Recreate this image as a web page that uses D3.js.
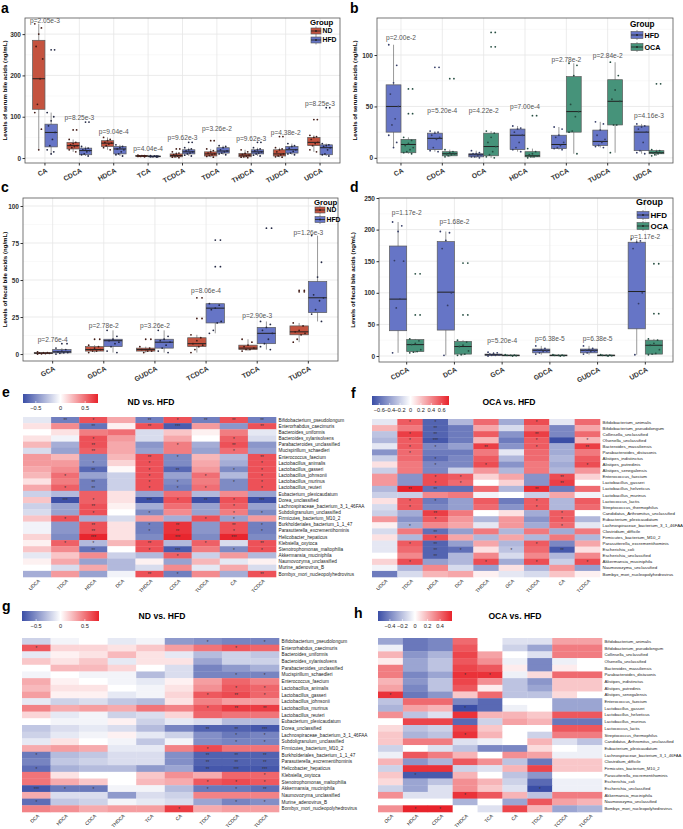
<!DOCTYPE html>
<html>
<head>
<meta charset="utf-8">
<script src="https://cdnjs.cloudflare.com/ajax/libs/d3/7.8.5/d3.min.js"></script>
<style>
  body { margin: 0; background: #fff; }
  svg { display: block; font-family: "Liberation Sans", Arial, sans-serif; }
</style>
</head>
<body>
<div id="chart"></div>
<script>
//**********************************************
// Bile acid box plots (a-d) + correlation heatmaps (e-h)
//**********************************************

// ---- a: serum, ND vs HFD  ([lo, q1, median, q3, hi])
var aCats = ['CA','CDCA','HDCA','TCA','TCDCA','TDCA','THDCA','TUDCA','UDCA'];
var aND  = [[20,118,192,285,325],[15,22,30,38,45],[20,28,36,42,50],[3,4,5,6,7],[1,3,6,10,15],[2,5,10,15,22],[1,3,7,11,20],[2,5,10,20,25],[15,30,38,50,55]];
var aHFD = [[10,27,62,82,110],[5,8,18,24,28],[5,10,22,28,32],[2,3,4,5,6],[5,10,15,20,25],[8,12,17,25,30],[5,10,15,20,25],[8,12,20,28,35],[5,8,25,32,35]];
var aNDpts  = [[325,315,300,270,240,192,130,110,70,20],[45,38,35,32,30,28,25,20,15],[50,45,42,38,36,34,30,25,20],[7,6,6,5,5,5,4,4,3],[15,12,10,8,6,5,3,2,1],[22,18,15,12,10,8,6,4,2],[20,15,11,9,7,5,3,2,1],[25,22,20,15,10,8,5,3,2],[55,52,50,45,38,35,30,20,15]];
var aHFDpts = [[110,100,90,78,62,45,30,20,15,10],[28,24,22,20,18,15,10,8,5],[32,28,25,22,20,15,10,8,5],[6,5,5,4,4,4,3,3,2],[25,22,20,17,15,12,10,7,5],[30,28,25,20,17,15,12,10,8],[25,22,20,17,15,12,10,7,5],[35,30,28,24,20,16,12,10,8],[35,32,30,28,25,20,10,8,5]];
var aNDout  = [[],[68],[],[],[22],[42],[],[52],[93]];
var aHFDout = [[262],[87],[],[],[38],[],[38],[],[122]];
var aP  = ['p=2.05e-3','p=8.25e-3','p=9.04e-4','p=4.04e-4','p=9.62e-3','p=3.26e-2','p=9.62e-3','p=4.38e-2','p=8.25e-3'];
var aPy = [332,97,63,22,50,70,46,61,131];

// ---- b: serum, HFD vs OCA
var bCats = ['CA','CDCA','OCA','HDCA','TDCA','TUDCA','UDCA'];
var bHFD = [[10,25,50,71,110],[6,8,19,24,26],[0,1,3,4,7],[6,8,22,28,31],[8,9,13,22,30],[10,12,16,27,35],[4,7,25,31,33]];
var bOCA = [[4,5,13,18,20],[1,2,4,6,8],[0,2,11,24,26],[0,1,2,6,9],[4,25,45,79,92],[5,32,55,76,93],[2,4,5,7,8]];
var bHFDpts = [[110,90,73,62,50,38,32,22,15,10],[26,25,24,22,20,18,10,7,6],[7,5,4,4,3,2,1,1,0],[31,29,28,25,22,15,10,8,6],[30,28,22,20,15,12,10,9,8],[35,33,27,22,18,15,12,11,10],[33,31,30,28,25,15,7,5,4]];
var bOCApts = [[20,17,14,12,10,8,6,5,4],[8,6,5,4,4,3,2,1],[26,24,20,15,11,6,3,1,0],[9,6,4,3,2,1,1,0],[92,90,80,52,45,40,26,25,4],[93,80,66,57,55,32,32,5],[8,7,6,5,5,4,3,2]];
var bHFDout = [[],[88],[],[],[],[],[]];
var bOCAout = [[67,43],[77],[122,108],[41],[],[],[72]];
var bP  = ['p=2.00e-2','p=5.20e-4','p=4.22e-2','p=7.00e-4','p=2.78e-2','p=2.84e-2','p=4.16e-3'];
var bPy = [117,46,46,50,95,99,41];

// ---- c: fecal, ND vs HFD
var cCats = ['GCA','GDCA','GUDCA','TCDCA','TDCA','TUDCA'];
var cND  = [[0,0.3,0.6,1,1.5],[1,2,3,5,6],[1,2,3,4,5],[1,5,7,11,13],[2,3,4,6,10],[8,13,15,19,21]];
var cHFD = [[0,0.8,1.5,3,4],[1,5,9,10,16],[1,4,8,10,16],[14,21,31,34,34],[3,7,14,18,22],[22,28,38,49,80]];
var cNDpts  = [[1.5,1,0.8,0.6,0.5,0.3,0.2,0],[6,5,4,3,3,2,2,1],[5,4,3,3,2,2,1],[13,11,9,7,6,5,3,1],[10,8,6,5,4,3,3,2],[21,19,16,15,14,13,10,8]];
var cHFDpts = [[4,3,2,1.5,1,0.8,0.5,0],[16,12,10,9,8,7,5,2,1],[16,12,10,9,8,6,4,2,1],[34,33,31,30,22,21,16,14],[22,20,18,16,14,10,7,5,3],[80,62,52,40,38,36,30,27,22]];
var cNDout  = [[],[10],[10],[38,24],[],[43,42]];
var cHFDout = [[7],[],[],[77,59],[85],[]];
var cP  = ['p=2.76e-4','p=2.78e-2','p=3.26e-2','p=8.06e-4','p=2.90e-3','p=1.26e-3'];
var cPy = [10,19,19,43,26,82];

// ---- d: fecal, HFD vs OCA
var dCats = ['CDCA','DCA','GCA','GDCA','GUDCA','UDCA'];
var dHFD = [[5,40,90,174,212],[1,41,101,181,197],[0,1,2,3,6],[2,5,9,11,16],[2,5,9,11,16],[2,43,102,180,185]];
var dOCA = [[5,7,18,26,27],[1,3,15,23,25],[0,0.5,1,1.5,2],[0,0.5,1,1.5,2],[0,0.5,1,1.5,2],[2,3,17,25,27]];
var dHFDpts = [[212,206,197,151,150,90,76,5],[197,195,183,170,100,80,1],[6,5,4,3,2,1,1,0],[16,12,10,9,8,7,5,3],[16,12,10,9,8,7,5,3],[185,182,180,170,100,83,2]];
var dOCApts = [[27,24,20,18,10,7,6,5],[25,22,17,15,8,3,2,1],[2,1.5,1,1,0.5,0],[2,1.5,1,1,0.5,0],[2,1.5,1,1,0.5,0],[27,25,20,17,10,4,3,2]];
var dHFDout = [[],[],[],[],[],[]];
var dOCAout = [[130,65],[147,65],[],[],[],[146,67]];
var dP  = ['p=1.17e-2','p=1.68e-2','p=5.20e-4','p=6.38e-5','p=6.38e-5','p=1.17e-2'];
var dPy = [226,212,24,28,28,188];

// ---- heatmaps
var ndRows = ['Bifidobacterium_pseudolongum','Enterorhabdus_caecimuris','Bacteroides_uniformis','Bacteroides_xylanisolvens','Parabacteroides_unclassified','Mucispirillum_schaedleri','Enterococcus_faecium','Lactobacillus_animalis','Lactobacillus_gasseri','Lactobacillus_johnsonii','Lactobacillus_murinus','Lactobacillus_reuteri','Eubacterium_plexicaudatum','Dorea_unclassified','Lachnospiraceae_bacterium_3_1_46FAA','Subdoligranulum_unclassified','Firmicutes_bacterium_M10_2','Burkholderiales_bacterium_1_1_47','Parasutterella_excrementihominis','Helicobacter_hepaticus','Klebsiella_oxytoca','Stenotrophomonas_maltophilia','Akkermansia_muciniphila','Naumovozyma_unclassified','Murine_adenovirus_B','Bombyx_mori_nucleopolyhedrovirus'];
var ocaRows = ['Bifidobacterium_animalis','Bifidobacterium_pseudolongum','Collinsella_unclassified','Olsenella_unclassified','Bacteroides_massiliensis','Parabacteroides_distasonis','Alistipes_indistinctus','Alistipes_putredinis','Alistipes_senegalensis','Enterococcus_faecium','Lactobacillus_gasseri','Lactobacillus_helveticus','Lactobacillus_murinus','Lactococcus_lactis','Streptococcus_thermophilus','Candidatus_Arthromitus_unclassified','Eubacterium_plexicaudatum','Lachnospiraceae_bacterium_3_1_46FAA','Clostridium_difficile','Firmicutes_bacterium_M10_2','Parasutterella_excrementihominis','Escherichia_coli','Escherichia_unclassified','Akkermansia_muciniphila','Naumovozyma_unclassified','Bombyx_mori_nucleopolyhedrovirus'];

var eCols = ['UDCA','TDCA','HDCA','DCA','THDCA','CDCA','TUDCA','CA','TCDCA'];
var eVals = [
 [-0.1,-0.55,0.6,0.3,-0.55,0.6,-0.55,0.6,-0.55],
 [0.1,0.4,-0.6,0.05,0.6,-0.7,0.35,-0.45,0.6],
 [0,0.1,0.45,0.5,-0.15,0.2,0.05,0.45,-0.1],
 [0.1,-0.05,0.6,0.35,-0.15,0.3,0,0.55,-0.15],
 [0.25,-0.35,0.6,0.3,-0.45,0.45,-0.35,0.6,-0.45],
 [-0.15,-0.4,0.55,0.3,-0.4,0.45,-0.4,0.5,-0.4],
 [0.35,0.25,-0.5,0.25,0.6,-0.5,0.25,-0.3,0.6],
 [0.35,0.35,-0.5,0.15,0.6,-0.5,0.3,-0.35,0.6],
 [0.3,0.4,-0.65,0.02,0.6,-0.65,0.35,-0.5,0.6],
 [0.25,0.5,-0.4,-0.2,0.6,-0.4,0.5,-0.3,0.6],
 [0.1,0.45,-0.55,-0.2,0.6,-0.5,0.45,-0.5,0.6],
 [0.3,0.55,-0.55,-0.2,0.6,-0.55,0.5,-0.5,0.6],
 [-0.2,-0.3,0.55,0.1,-0.4,0.5,-0.3,0.4,-0.4],
 [0.2,-0.75,0.55,0.1,-0.75,0.6,-0.75,0.6,-0.75],
 [-0.2,-0.4,0.6,0.05,-0.35,0.5,-0.4,0.55,-0.4],
 [-0.15,-0.4,0.6,0,-0.5,0.4,-0.4,0.45,-0.5],
 [0.2,0.6,-0.35,-0.15,0.35,-0.35,0.6,-0.4,0.35],
 [-0.05,-0.45,0.6,0.1,-0.55,0.7,-0.45,0.6,-0.55],
 [-0.05,-0.45,0.6,0.1,-0.55,0.7,-0.45,0.6,-0.55],
 [0.15,-0.5,0.75,0.1,-0.5,0.75,-0.5,0.75,-0.5],
 [0.05,0.55,-0.3,0.25,0.6,-0.3,0.55,-0.15,0.6],
 [0.2,0.4,-0.6,0,0.6,-0.7,0.45,-0.5,0.6],
 [-0.1,0.2,0.4,-0.2,-0.3,0.55,-0.2,0.35,-0.3],
 [0.05,0.3,-0.4,-0.3,0.05,-0.4,0.25,-0.1,0.05],
 [0,-0.15,0.3,-0.3,-0.15,0.4,-0.1,0.3,-0.15],
 [-0.35,0.35,-0.4,-0.05,0.6,-0.55,0.4,-0.35,0.6]];
var eStars = ['021021222','002023002','000000000','001000010','002001020','002000010','000021002','001010001','002012011','010010101','002011011','012011101','000000000','031031213','002000010','001010011','010000110','002012021','002012011','003003030','011020102','002013011','000001000','000000000','000000000','000021002'];

var fCols = ['UDCA','TDCA','HDCA','DCA','THDCA','GCA','TUDCA','CA','TCDCA'];
var fVals = [
 [-0.1,0.55,-0.65,-0.3,0.5,-0.35,0.6,-0.1,0.5],
 [0.25,0.45,-0.65,-0.55,0.3,-0.15,0.45,-0.5,0.3],
 [-0.25,0.65,-0.65,-0.55,0.55,-0.45,0.65,-0.5,0.5],
 [-0.3,0.55,-0.7,-0.55,0.25,-0.55,0.55,-0.75,0.25],
 [-0.1,0.55,-0.5,-0.4,0.65,-0.45,0.55,-0.35,0.65],
 [-0.45,0.5,-0.55,-0.55,0.45,-0.1,0.5,-0.35,0.45],
 [-0.2,0.5,-0.6,-0.5,0.55,-0.3,0.5,-0.3,0.55],
 [0.1,0.45,-0.5,-0.5,0.6,-0.45,0.45,-0.35,0.6],
 [-0.2,0.45,-0.5,-0.2,0.35,-0.3,0.45,-0.3,0.35],
 [0.35,-0.45,0.6,0.55,0.15,0.3,-0.45,0.6,0.15],
 [0.35,-0.45,0.6,0.5,0,0.15,-0.45,0.65,0],
 [-0.3,0.75,-0.6,-0.6,0.5,-0.3,0.7,-0.55,0.5],
 [-0.2,-0.2,0.4,0.45,-0.05,0,-0.2,0.3,-0.05],
 [0.1,0.55,-0.55,-0.4,0.55,-0.55,0.55,-0.3,0.55],
 [-0.15,0.55,-0.5,-0.4,0.5,-0.45,0.55,-0.3,0.5],
 [-0.2,-0.35,0.65,0.45,0,0.1,-0.35,0.55,0],
 [0.35,-0.45,0.55,0.35,-0.3,0.35,-0.45,0.55,-0.3],
 [0.05,-0.35,0.4,0.3,-0.1,0.35,-0.35,0.5,-0.1],
 [-0.15,0.45,-0.6,-0.4,0.45,-0.3,0.45,-0.35,0.45],
 [0.1,-0.3,0.6,0.3,-0.3,0.3,-0.3,0.45,-0.3],
 [-0.1,0.55,-0.65,-0.4,0.3,-0.3,0.55,-0.5,0.3],
 [-0.1,0.5,-0.65,-0.6,0.1,-0.25,0.5,-0.7,0.1],
 [0,0.4,-0.65,-0.3,0.4,-0.15,0.4,-0.3,0.4],
 [0.15,0.6,-0.4,-0.3,0.6,-0.35,0.6,-0.2,0.6],
 [-0.05,-0.3,0.4,-0.15,-0.4,0.1,-0.3,0.35,-0.4],
 [-0.55,-0.15,0.25,0.3,0.05,-0.1,-0.15,0.2,0.05]];
var fStars = ['011000100','002000000','012000200','013000101','011020102','010000000','001000000','001010001','000000000','001100020','001100020','022000200','000000000','011000100','010000100','002000010','001000010','010000010','002000000','001000000','012000100','002101020','002000000','010010101','000000000','000000000'];

var gCols = ['DCA','HDCA','CDCA','THDCA','TCA','CA','TDCA','TCDCA','TUDCA'];
var gVals = [
 [-0.2,-0.05,0,-0.1,-0.05,-0.45,-0.5,-0.55,-0.55],
 [0.6,0.15,0.15,0.1,0.2,0.35,0.5,0.6,0.55],
 [-0.1,0.05,0.1,0.25,0.1,-0.1,-0.3,-0.2,-0.25],
 [0.2,0.1,0.2,-0.1,0.1,0.1,-0.4,-0.2,-0.2],
 [0,0.25,0.25,0.15,0,-0.15,-0.55,-0.45,-0.35],
 [-0.05,0,-0.05,-0.05,-0.3,-0.15,-0.55,-0.55,-0.55],
 [0.3,0.05,0,-0.05,-0.1,0.05,0.35,0.55,0.45],
 [0.25,0.1,0.1,0,-0.05,0.1,0.4,0.6,0.55],
 [0.35,0.05,0.05,-0.1,-0.05,0.15,0.6,0.65,0.55],
 [-0.1,-0.2,-0.15,-0.25,-0.3,0.1,0.45,0.35,0.35],
 [0.45,0.3,0.35,0.3,0.5,0.45,0.6,0.7,0.7],
 [0.15,-0.1,-0.05,-0.2,-0.15,0.15,0.55,0.5,0.5],
 [0,-0.05,-0.05,0.05,-0.2,-0.1,-0.15,-0.3,-0.3],
 [-0.25,-0.15,-0.1,-0.15,-0.3,-0.55,-0.7,-0.7,-0.75],
 [-0.2,-0.1,-0.05,0.05,-0.1,-0.2,-0.5,-0.6,-0.55],
 [-0.1,0.1,0,-0.05,-0.25,-0.05,-0.5,-0.55,-0.55],
 [0.3,0.35,0.3,-0.1,-0.1,0.45,0.65,0.5,0.5],
 [-0.6,-0.3,-0.25,-0.15,-0.15,-0.5,-0.7,-0.7,-0.7],
 [-0.55,-0.25,-0.2,-0.15,-0.15,-0.5,-0.7,-0.7,-0.7],
 [-0.65,-0.35,-0.3,-0.3,-0.45,-0.4,-0.75,-0.75,-0.75],
 [0.5,0.1,0,0,0.2,0.4,0.3,0.55,0.55],
 [0.5,0.3,0.2,0,0.25,0.3,0.6,0.65,0.6],
 [-0.75,-0.6,-0.6,-0.05,-0.05,-0.3,-0.6,-0.6,-0.65],
 [0.3,-0.15,-0.15,-0.45,-0.15,-0.2,0.45,0.45,0.45],
 [-0.65,-0.25,-0.2,-0.05,-0.1,-0.15,-0.4,-0.55,-0.5],
 [0.45,0.4,0.3,0.35,0.35,0.7,0.3,0.35,0.35]];
var gStars = ['000000101','100000010','000000000','000000000','000000000','000000011','000000000','000000011','000000121','000000000','000000122','000000000','000000000','000000223','000000011','000000011','000000100','100000222','000000222','100000233','000000001','000000111','311000112','000000000','100000011','000001000'];

var hCols = ['OCA','HDCA','CDCA','THDCA','TCA','CA','TDCA','TCDCA','TUDCA'];
var hVals = [
 [-0.3,-0.45,-0.4,0.4,0,-0.1,-0.1,0.25,0.25],
 [-0.05,-0.45,-0.4,0.45,0,-0.15,-0.3,0.35,0.35],
 [0.2,-0.35,-0.25,0.5,0.25,0,-0.1,0.35,0.35],
 [0.05,-0.3,-0.2,0.45,0.3,-0.05,-0.4,-0.05,0],
 [0.35,-0.3,-0.2,0.5,0.45,0.05,-0.4,0.05,0],
 [0.35,-0.4,-0.3,0.55,0.55,-0.05,0.1,0.4,0.4],
 [0.2,-0.35,-0.2,0.5,0.3,-0.2,-0.35,0.15,0.15],
 [0.25,-0.4,-0.2,0.45,0.05,-0.2,-0.3,0.15,0.15],
 [0.55,-0.45,-0.35,0.15,0.4,-0.2,-0.2,0.1,0],
 [-0.2,0.4,0.4,-0.4,-0.5,0,0,-0.3,-0.3],
 [-0.25,0.25,0.2,-0.6,-0.5,-0.05,0,-0.3,-0.3],
 [0.3,-0.2,-0.1,0.55,0.2,0.2,0.15,0.45,0.45],
 [0,0.5,0.5,-0.5,-0.15,0.25,0.2,-0.45,-0.45],
 [0.1,-0.2,-0.15,0.5,0.15,0,0,0.45,0.45],
 [0.15,-0.25,-0.2,0.55,0.2,0,-0.15,0.35,0.35],
 [0.15,0.35,0.35,-0.1,-0.05,0,0.2,-0.1,-0.2],
 [-0.15,0,-0.1,-0.2,-0.4,-0.4,0.1,0,-0.05],
 [-0.05,0.45,0.35,0.2,0,0.3,0.25,-0.05,-0.05],
 [0.2,-0.35,-0.25,0.45,0.3,-0.2,-0.45,0.15,0.15],
 [-0.15,0.55,0.55,-0.15,-0.1,0.2,0.5,0.15,0.15],
 [0.15,-0.55,-0.55,0.2,0,-0.2,-0.35,0,0],
 [0.1,-0.3,-0.2,0.3,0.2,-0.15,-0.5,-0.05,-0.05],
 [-0.15,-0.3,-0.1,0.3,0.15,-0.1,-0.6,-0.05,-0.05],
 [0.3,-0.1,-0.1,0.55,0.45,0.2,-0.2,0.35,0.35],
 [0,0,0,-0.25,0,-0.3,0.45,0.25,0.2],
 [0.3,0.6,0.6,0,-0.1,0.5,0.2,-0.3,-0.25]];
var hStars = ['000000000','000000000','000000000','000000000','000000000','000110000','000000000','000000000','100000000','000000000','000100000','000000000','000000000','000000000','000100000','000000000','000000000','000000000','000000000','000000000','010000000','000000000','000000100','000100000','000000000','011000000'];

// colours
var RED = '#c4533f', BLU = '#6675c6', GRN = '#46937a';
var HM_LO = '#3b4ea6', HM_HI = '#e8232b';

var Figure = (function(){

    var W = 683, H = 829;
    var svg = d3.select('#chart')
                .append('svg')
                .attr('width', W)
                .attr('height', H);
    svg.append('rect').attr('width', W).attr('height', H).attr('fill', '#fff');
    var defs = svg.append('defs');

    var letter = function(t, x, y){
        svg.append('text').attr('x', x).attr('y', y).text(t)
            .style('font-size', '14px').style('font-weight', 'bold');
    };

    // box plot panel (two groups dodged in every category)
    var boxPanel = function(o){
        var g = svg.append('g');
        var x = d3.scaleBand().domain(o.cats).range([o.x0, o.x0 + o.w]).paddingOuter(0.08).paddingInner(0);
        var y = d3.scaleLinear().domain(o.ydom).range([o.y0 + o.h, o.y0]);
        var bw = x.step() * 0.36;
        var mid = function(c){ return x(c) + x.bandwidth() / 2; };

        // grid
        var step = o.ticks[1] - o.ticks[0];
        var minor = o.ticks.map(function(t){ return t + step / 2; }).filter(function(t){ return t < o.ydom[1]; });
        g.selectAll('.mn').data(minor).enter().append('line')
            .attr('x1', o.x0).attr('x2', o.x0 + o.w).attr('y1', y).attr('y2', y)
            .attr('stroke', '#f2f2f2').attr('stroke-width', 0.5);
        g.selectAll('.mj').data(o.ticks).enter().append('line')
            .attr('x1', o.x0).attr('x2', o.x0 + o.w).attr('y1', y).attr('y2', y)
            .attr('stroke', '#e6e6e6').attr('stroke-width', 0.8);
        g.selectAll('.vx').data(o.cats).enter().append('line')
            .attr('x1', mid).attr('x2', mid).attr('y1', o.y0).attr('y2', o.y0 + o.h)
            .attr('stroke', '#e6e6e6').attr('stroke-width', 0.8);

        o.groups.forEach(function(gr, gi){
            var off = (gi - 0.5) * bw;
            var ptCol = d3.color(gr.color).darker(o.darkPts ? 1.8 : 3).formatHex();
            o.cats.forEach(function(c, ci){
                var s = gr.stats[ci], cx = mid(c) + off;
                g.append('line').attr('x1', cx).attr('x2', cx).attr('y1', y(s[0])).attr('y2', y(s[4]))
                    .attr('stroke', '#555').attr('stroke-width', 0.6);
                g.append('rect').attr('x', cx - bw / 2).attr('width', bw)
                    .attr('y', y(s[3])).attr('height', Math.max(0.8, y(s[1]) - y(s[3])))
                    .attr('fill', gr.color).attr('stroke', '#5a5a5a').attr('stroke-width', 0.7);
                g.append('line').attr('x1', cx - bw / 2).attr('x2', cx + bw / 2).attr('y1', y(s[2])).attr('y2', y(s[2]))
                    .attr('stroke', '#222').attr('stroke-width', 1);
                // outliers: box outlier at the centre, jittered copy beside it
                gr.out[ci].forEach(function(v){
                    [cx, cx + bw * 0.28].forEach(function(px){
                        g.append('circle').attr('cx', px).attr('cy', y(v)).attr('r', 0.9).attr('fill', ptCol);
                    });
                });
                gr.pts[ci].forEach(function(v, i){
                    var dx = (((i * 5) % 7) - 3) / 3 * bw * 0.32;
                    g.append('circle').attr('cx', cx + dx).attr('cy', y(v)).attr('r', 0.9).attr('fill', ptCol);
                });
            });
        });

        // p values
        g.selectAll('.pv').data(o.cats).enter().append('text')
            .attr('x', function(c){ return mid(c); })
            .attr('y', function(c, i){ return y(o.py[i]); })
            .attr('dy', '0.35em').attr('text-anchor', 'middle')
            .style('font-size', '6.6px').style('fill', '#555')
            .text(function(c, i){ return o.pv[i]; });

        // border
        g.append('rect').attr('x', o.x0).attr('y', o.y0).attr('width', o.w).attr('height', o.h)
            .attr('fill', 'none').attr('stroke', '#555').attr('stroke-width', 0.8);

        // axes
        var ya = g.append('g').attr('transform', 'translate(' + o.x0 + ',0)')
            .call(d3.axisLeft(y).tickValues(o.ticks).tickSize(2.5).tickPadding(1.5));
        ya.select('.domain').remove();
        ya.selectAll('text').style('font-size', '6.5px').style('font-weight', 'bold').attr('fill', '#333');
        ya.selectAll('line').attr('stroke', '#333');
        var xa = g.append('g').attr('transform', 'translate(0,' + (o.y0 + o.h) + ')')
            .call(d3.axisBottom(x).tickSize(2.5));
        xa.select('.domain').remove();
        xa.selectAll('line').attr('stroke', '#333');
        xa.selectAll('text').attr('text-anchor', 'end').attr('dy', 0).attr('y', 0)
            .attr('transform', 'translate(3,9) rotate(-28)')
            .style('font-size', '6.8px').style('font-weight', 'bold').attr('fill', '#333');

        g.append('text').attr('transform', 'translate(' + o.tx + ',' + (o.y0 + o.h / 2) + ') rotate(-90)')
            .attr('text-anchor', 'middle').style('font-size', '6.1px').style('font-weight', 'bold')
            .text(o.ytitle);

        // legend
        var L = o.leg;
        g.append('text').attr('x', L.x).attr('y', L.y).text('Group')
            .style('font-size', L.fs + 1 + 'px').style('font-weight', 'bold');
        o.groups.forEach(function(gr, gi){
            var cy = L.y + L.first + gi * L.step;
            var kx = L.x + 1;
            g.append('line').attr('x1', kx + L.kw / 2).attr('x2', kx + L.kw / 2)
                .attr('y1', cy - L.kh / 2 - 1.5).attr('y2', cy + L.kh / 2 + 1.5).attr('stroke', '#555').attr('stroke-width', 0.6);
            g.append('rect').attr('x', kx).attr('y', cy - L.kh / 2).attr('width', L.kw).attr('height', L.kh)
                .attr('fill', gr.color).attr('stroke', '#555').attr('stroke-width', 0.6);
            g.append('line').attr('x1', kx).attr('x2', kx + L.kw).attr('y1', cy).attr('y2', cy)
                .attr('stroke', '#222').attr('stroke-width', 0.8);
            g.append('circle').attr('cx', kx + L.kw / 2).attr('cy', cy).attr('r', 0.9).attr('fill', '#222');
            g.append('text').attr('x', kx + L.kw + 1.5).attr('y', cy).attr('dy', '0.35em').text(gr.name)
                .style('font-size', L.fs + 'px').style('font-weight', 'bold');
        });
    };

    // correlation heatmap panel
    var heatPanel = function(o, id){
        var g = svg.append('g');
        var x = d3.scaleBand().domain(o.cols).range([o.x0, o.x1]);
        var y = d3.scaleBand().domain(o.rows).range([o.y0, o.y1]);
        var col = d3.scaleLinear().domain([-o.lim, 0, o.lim]).range([HM_LO, '#ffffff', HM_HI]).clamp(true);

        var cells = [];
        o.vals.forEach(function(r, ri){
            r.forEach(function(v, ci){
                cells.push({r: o.rows[ri], c: o.cols[ci], v: v, s: +o.stars[ri][ci]});
            });
        });
        g.selectAll('rect.cell').data(cells).enter().append('rect')
            .attr('x', function(d){ return x(d.c); }).attr('y', function(d){ return y(d.r); })
            .attr('width', x.bandwidth() + 0.3).attr('height', y.bandwidth() + 0.3)
            .attr('fill', function(d){ return col(d.v); });
        g.selectAll('text.st').data(cells.filter(function(d){ return d.s > 0; })).enter().append('text')
            .attr('x', function(d){ return x(d.c) + x.bandwidth() / 2; })
            .attr('y', function(d){ return y(d.r) + y.bandwidth() / 2 + 2.2; })
            .attr('text-anchor', 'middle').style('font-size', '4.5px').attr('fill', '#333')
            .text(function(d){ return '*'.repeat(d.s); });

        g.selectAll('text.rl').data(o.rows).enter().append('text')
            .attr('x', o.x1 + 2.5).attr('y', function(r){ return y(r) + y.bandwidth() / 2; })
            .attr('dy', '0.35em').style('font-size', o.rfs + 'px').attr('fill', '#222')
            .text(function(r){ return r; });
        g.selectAll('text.cl').data(o.cols).enter().append('text')
            .attr('transform', function(c){ return 'translate(' + (x(c) + x.bandwidth() / 2 + 2) + ',' + (o.y1 + 3) + ') rotate(-45)'; })
            .attr('text-anchor', 'end').attr('dy', '0.35em').style('font-size', '4.8px').attr('fill', '#222')
            .text(function(c){ return c; });

        // colour bar
        var B = o.bar;
        var grad = defs.append('linearGradient').attr('id', id);
        [-o.lim, 0, o.lim].forEach(function(v, i){
            grad.append('stop').attr('offset', (i * 50) + '%').attr('stop-color', col(v));
        });
        var bx = d3.scaleLinear().domain([-o.lim, o.lim]).range([B.x, B.x + B.w]);
        g.append('rect').attr('x', B.x).attr('y', B.y).attr('width', B.w).attr('height', B.h)
            .attr('fill', 'url(#' + id + ')');
        g.selectAll('line.bt').data(B.ticks).enter().append('line')
            .attr('x1', bx).attr('x2', bx).attr('y1', B.y + B.h - 2).attr('y2', B.y + B.h)
            .attr('stroke', '#fff').attr('stroke-width', 0.6);
        g.selectAll('text.bt').data(B.ticks).enter().append('text')
            .attr('x', bx).attr('y', B.y + B.h + 6.5).attr('text-anchor', 'middle')
            .style('font-size', '5.6px').attr('fill', '#222')
            .text(function(t){ return t === 0 ? '0' : d3.format('.1f')(t).replace('-', '\u2212'); });

        g.append('text').attr('x', o.tx).attr('y', o.ty).attr('text-anchor', 'middle')
            .style('font-size', '8.6px').style('font-weight', 'bold').text(o.title);
    };

    return {
        svg: svg,
        letter: letter,
        boxPanel: boxPanel,
        heatPanel: heatPanel
    };
}());

// ---------------- top: box plots
Figure.letter('a', 1, 13);
Figure.boxPanel({
    x0: 25, y0: 18, w: 315, h: 145, ydom: [-12, 339], ticks: [0, 100, 200, 300],
    cats: aCats, pv: aP, py: aPy, tx: 7, ytitle: 'Levels of serum bile acids (ng/mL)',
    groups: [{name: 'ND', color: RED, stats: aND, pts: aNDpts, out: aNDout},
             {name: 'HFD', color: BLU, stats: aHFD, pts: aHFDpts, out: aHFDout}],
    leg: {x: 310, y: 25, first: 6, step: 9, kw: 10, kh: 6, fs: 6.8}
});
Figure.letter('b', 350, 13);
Figure.boxPanel({
    x0: 377, y0: 18, w: 296, h: 145, ydom: [-5, 136], ticks: [0, 50, 100],
    cats: bCats, pv: bP, py: bPy, tx: 357, ytitle: 'Levels of serum bile acids (ng/mL)', darkPts: true,
    groups: [{name: 'HFD', color: BLU, stats: bHFD, pts: bHFDpts, out: bHFDout},
             {name: 'OCA', color: GRN, stats: bOCA, pts: bOCApts, out: bOCAout}],
    leg: {x: 630, y: 27, first: 8, step: 12, kw: 12, kh: 7, fs: 7.2}
});
Figure.letter('c', 1, 192);
Figure.boxPanel({
    x0: 23, y0: 198, w: 315, h: 163, ydom: [-4.7, 105.4], ticks: [0, 25, 50, 75, 100],
    cats: cCats, pv: cP, py: cPy, tx: 7, ytitle: 'Levels of fecal bile acids (ng/mL)',
    groups: [{name: 'ND', color: RED, stats: cND, pts: cNDpts, out: cNDout},
             {name: 'HFD', color: BLU, stats: cHFD, pts: cHFDpts, out: cHFDout}],
    leg: {x: 314, y: 205, first: 5, step: 9.5, kw: 10, kh: 6, fs: 6.8}
});
Figure.letter('d', 350, 192);
Figure.boxPanel({
    x0: 379, y0: 198, w: 294, h: 164, ydom: [-9.5, 250], ticks: [0, 50, 100, 150, 200, 250],
    cats: dCats, pv: dP, py: dPy, tx: 355, ytitle: 'Levels of fecal bile acids (ng/mL)', darkPts: true,
    groups: [{name: 'HFD', color: BLU, stats: dHFD, pts: dHFDpts, out: dHFDout},
             {name: 'OCA', color: GRN, stats: dOCA, pts: dOCApts, out: dOCAout}],
    leg: {x: 636, y: 205, first: 10, step: 11, kw: 12, kh: 7, fs: 8}
});

// ---------------- bottom: heatmaps
Figure.letter('e', 2, 397);
Figure.heatPanel({
    x0: 23, x1: 276, y0: 417, y1: 577, rows: ndRows, cols: eCols, vals: eVals, stars: eStars, lim: 0.76, rfs: 4.7,
    bar: {x: 23, y: 394, w: 75, h: 9, ticks: [-0.5, 0, 0.5]}, title: 'ND vs. HFD', tx: 151, ty: 405
}, 'ge');
Figure.letter('f', 351, 398);
Figure.heatPanel({
    x0: 372, x1: 600, y0: 419, y1: 577, rows: ocaRows, cols: fCols, vals: fVals, stars: fStars, lim: 0.74, rfs: 4.4,
    bar: {x: 372, y: 396, w: 77, h: 9, ticks: [-0.6, -0.4, -0.2, 0, 0.2, 0.4, 0.6]}, title: 'OCA vs. HFD', tx: 509, ty: 405
}, 'gf');
Figure.letter('g', 2, 611);
Figure.heatPanel({
    x0: 22, x1: 279, y0: 638, y1: 812, rows: ndRows, cols: gCols, vals: gVals, stars: gStars, lim: 0.79, rfs: 4.7,
    bar: {x: 22, y: 611, w: 77, h: 10, ticks: [-0.5, 0, 0.5]}, title: 'ND vs. HFD', tx: 162, ty: 619
}, 'gg');
Figure.letter('h', 354, 618);
Figure.heatPanel({
    x0: 378, x1: 602, y0: 638, y1: 812, rows: ocaRows, cols: hCols, vals: hVals, stars: hStars, lim: 0.59, rfs: 4.2,
    bar: {x: 378, y: 611, w: 74, h: 10, ticks: [-0.4, -0.2, 0, 0.2, 0.4]}, title: 'OCA vs. HFD', tx: 515, ty: 619
}, 'gh');
</script>
</body>
</html>
